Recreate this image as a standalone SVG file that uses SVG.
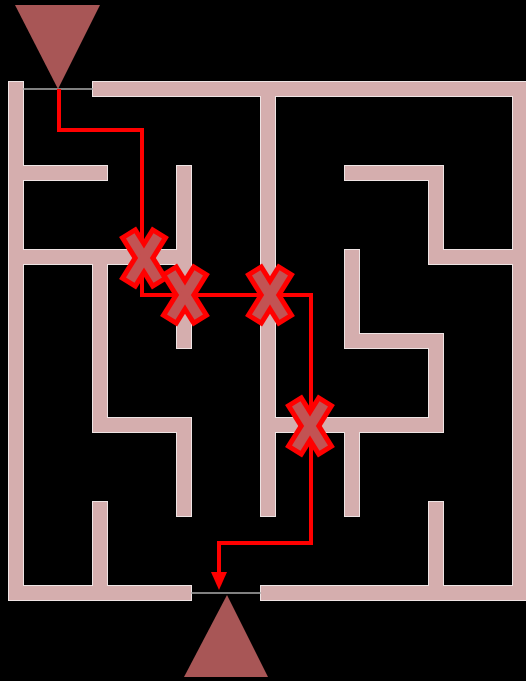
<svg xmlns="http://www.w3.org/2000/svg" xmlns:xlink="http://www.w3.org/1999/xlink" width="526" height="681" viewBox="0 0 526 681">
<style>
.wo{fill:none;stroke:#eee4e4;stroke-width:16;stroke-linecap:square;stroke-linejoin:miter}
.wf{fill:none;stroke:#d5aeae;stroke-width:14;stroke-linecap:square;stroke-linejoin:miter}
.gate{fill:none;stroke:#aaaaaa;stroke-width:1.5}
.tri{fill:#a85656}
.route{fill:none;stroke:#ff0000;stroke-width:4;stroke-linejoin:miter}
.xo{fill:#ff0000;stroke:#ff0000;stroke-width:10;stroke-linejoin:miter}
.xf{fill:#c25353;stroke:none}
</style>
<defs>
<path id="walls" d="M16,89 V593 H184 M100,89 H520 V593 H268 M16,173 H100 M16,257 H184 M184,173 V341 M100,257 V425 H184 V509 M268,89 V509 M268,425 H436 V341 H352 V257 M352,425 V509 M352,173 H436 V257 H520 M100,509 V593 M436,509 V593"/>
<g id="xmark">
<rect class="xo" x="-5" y="-26" width="10" height="52" transform="rotate(-32)"/>
<rect class="xo" x="-5" y="-26" width="10" height="52" transform="rotate(32)"/>
<rect class="xf" x="-5" y="-26" width="10" height="52" transform="rotate(-32)"/>
<rect class="xf" x="-5" y="-26" width="10" height="52" transform="rotate(32)"/>
</g>
</defs>
<rect width="526" height="681" fill="#000"/>
<g id="maze">
<use xlink:href="#walls" href="#walls" class="wo"/>
<use xlink:href="#walls" href="#walls" class="wf"/>
<path class="gate" d="M23,89 H93 M191,593 H261"/>
</g>
<g id="start"><polygon class="tri" points="15,5 100,5 58,89"/></g>
<g id="end"><polygon class="tri" points="227,595 268,677 184,677"/></g>
<g id="connectors">
<path class="route" d="M59,89 V130 H142 V295 H311 V543 H219 V574"/>
<polygon fill="#ff0000" points="211,572 227,572 219,590"/>
</g>
<g id="block1"><use xlink:href="#xmark" href="#xmark" transform="translate(144,258)"/></g>
<g id="block2"><use xlink:href="#xmark" href="#xmark" transform="translate(185,295)"/></g>
<g id="block3"><use xlink:href="#xmark" href="#xmark" transform="translate(270,295)"/></g>
<g id="block4"><use xlink:href="#xmark" href="#xmark" transform="translate(310,426)"/></g>
</svg>
